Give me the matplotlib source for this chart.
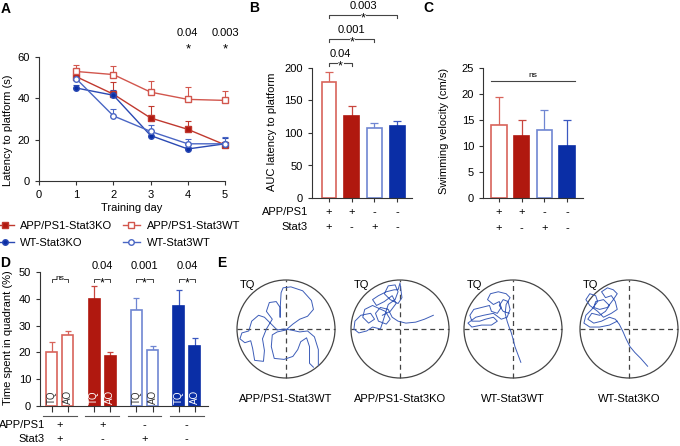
import numpy as np
import matplotlib
matplotlib.use("Agg")
import matplotlib.pyplot as plt
import matplotlib.transforms as mtransforms
from matplotlib.patches import Circle

plt.rcParams['font.family'] = ['Liberation Sans', 'DejaVu Sans']
plt.rcParams['font.size'] = 8
plt.rcParams['axes.linewidth'] = 0.8
plt.rcParams['axes.edgecolor'] = '#333333'
plt.rcParams['xtick.color'] = '#333333'
plt.rcParams['ytick.color'] = '#333333'
plt.rcParams['xtick.labelcolor'] = 'black'
plt.rcParams['ytick.labelcolor'] = 'black'
plt.rcParams['xtick.major.size'] = 3
plt.rcParams['ytick.major.size'] = 3
plt.rcParams['xtick.major.width'] = 0.8
plt.rcParams['ytick.major.width'] = 0.8

RED = '#B0180F'
RED_L = '#D8645B'
BLUE = '#0A2EA6'
BLUE_L = '#6F86D2'
PATH = '#3D5DB8'

# ---- data ----
days = [1, 2, 3, 4, 5]
lat_app_ko = [50.5, 42, 30.5, 25, 17.5]
lat_app_ko_err = [3, 6, 6, 4, 1]
lat_app_wt = [53, 51.5, 43, 39.5, 39]
lat_app_wt_err = [3, 4, 5.5, 6, 4.5]
lat_wt_ko = [45, 41.5, 22, 15.5, 18]
lat_wt_ko_err = [1.5, 2.5, 1.5, 1, 3]
lat_wt_wt = [49.5, 31.5, 24, 18, 18]
lat_wt_wt_err = [2.5, 3.5, 3, 2.5, 3.5]
a_sig_days = [4, 5]
a_sig_p = ['0.04', '0.003']

auc = [179, 126, 107, 110]
auc_err = [15, 16, 9, 8]
b_pairs = [(0, 1), (0, 2), (0, 3)]
b_p = ['0.04', '0.001', '0.003']
b_heights = [208, 245, 282]

vel = [14, 12, 13, 10]
vel_err = [5.5, 3, 4, 5]

tq = [20, 39.8, 35.8, 37.2]
tq_err = [4, 4.9, 4.5, 6.1]
ao = [26.5, 18.5, 21, 22.3]
ao_err = [1.3, 1.8, 1.5, 2.9]
d_p = ['ns', '0.04', '0.001', '0.04']

app_sign = ['+', '+', '-', '-']
stat_sign = ['+', '-', '+', '-']
group_names = ['APP/PS1-Stat3WT', 'APP/PS1-Stat3KO', 'WT-Stat3WT', 'WT-Stat3KO']

# swim paths, pool coords 0-100 (centre 50,50)
path_app_wt = [(83, 13), (83, 29), (79, 42), (72, 48), (64, 47), (55, 49), (48, 50), (41, 49),
               (35, 55), (28, 62), (22, 64), (15, 58), (12, 48), (5, 46), (3, 40), (8, 36),
               (14, 38), (16, 30), (18, 18), (27, 17), (28, 28), (26, 40), (30, 50), (36, 60),
               (30, 68), (33, 77), (40, 78), (44, 72), (44, 62), (44, 70), (45, 87), (47, 92),
               (55, 93), (67, 89), (76, 79), (78, 70), (72, 63), (64, 60), (57, 55), (50, 49),
               (41, 47), (36, 44), (35, 32), (38, 20), (48, 19), (57, 22), (62, 29), (65, 37),
               (71, 41), (74, 32), (74, 15), (78, 11)]
path_app_ko = [(84, 64), (75, 60), (66, 57), (56, 56), (48, 58), (42, 62), (38, 70), (30, 72),
               (25, 66), (28, 58), (36, 55), (40, 60), (35, 68), (22, 74), (14, 70), (12, 62),
               (18, 56), (24, 60), (20, 66), (10, 64), (4, 58), (3, 50), (8, 46), (16, 48),
               (22, 52), (30, 50), (32, 56), (38, 75), (45, 80), (48, 88), (45, 95), (38, 94),
               (34, 86), (40, 80), (48, 76), (52, 82), (50, 97), (48, 90), (44, 90), (36, 88),
               (28, 84), (22, 80), (26, 74), (34, 78), (42, 84), (46, 76), (40, 68), (32, 64)]
path_wt_wt = [(58, 16), (55, 24), (52, 32), (50, 40), (48, 47), (46, 52), (44, 58), (42, 66),
              (43, 75), (47, 82), (43, 86), (35, 88), (27, 86), (24, 80), (30, 75), (36, 78),
              (38, 72), (34, 66), (28, 68), (26, 74), (18, 72), (10, 70), (6, 64), (8, 58),
              (16, 58), (22, 60), (30, 62), (34, 58), (28, 54), (18, 54), (8, 52), (4, 56),
              (12, 62), (20, 64), (30, 66), (38, 60), (44, 62), (47, 70), (45, 78), (40, 80),
              (36, 74), (40, 68), (46, 66)]
path_wt_ko = [(69, 12), (62, 20), (56, 26), (51, 32), (47, 40), (44, 47), (40, 55), (36, 60),
              (30, 62), (22, 58), (14, 56), (8, 60), (12, 66), (20, 64), (26, 68), (30, 74),
              (24, 80), (16, 78), (14, 72), (20, 70), (28, 72), (34, 80), (38, 86), (34, 90),
              (28, 92), (22, 88), (26, 82), (32, 84), (36, 78), (38, 70), (32, 66), (24, 62),
              (18, 68), (10, 74), (6, 80), (10, 86), (16, 84), (18, 78), (12, 70), (6, 64),
              (4, 56), (10, 52), (20, 52), (30, 54), (38, 58)]
paths = [path_app_wt, path_app_ko, path_wt_wt, path_wt_ko]

W, H = 680, 446
fig = plt.figure(figsize=(W / 100, H / 100), dpi=100)


def add_ax(l, t, r, b):
    return fig.add_axes([l / W, 1 - b / H, (r - l) / W, (b - t) / H])


def ftext(x, y, s, **kw):
    return fig.text(x / W, 1 - y / H, s, **kw)


def clean(ax):
    ax.spines['top'].set_visible(False)
    ax.spines['right'].set_visible(False)


bar_face = ['white', RED, 'white', BLUE]
bar_edge = [RED_L, RED, BLUE_L, BLUE]
err_col = [RED_L, '#C8463E', BLUE_L, '#3B58C0']

# ---- panel labels ----
for lab, x, y in [('A', 6, 9), ('B', 254, 8), ('C', 428, 8), ('D', 5, 263), ('E', 222, 263)]:
    ftext(x, y, lab, fontsize=10, fontweight='bold', ha='center', va='center')

# ---- A ----
ax = add_ax(39, 57, 225, 181)
clean(ax)
series = [
    (lat_app_ko, lat_app_ko_err, '#C0392F', 's', RED, 'APP/PS1-Stat3KO'),
    (lat_wt_ko, lat_wt_ko_err, '#2A49B3', 'o', BLUE, 'WT-Stat3KO'),
    (lat_app_wt, lat_app_wt_err, '#D2564D', 's', 'white', 'APP/PS1-Stat3WT'),
    (lat_wt_wt, lat_wt_wt_err, '#4A66C4', 'o', 'white', 'WT-Stat3WT'),
]
handles = []
for vals, err, col, mk, fc, lab in series:
    ax.errorbar(days, vals, yerr=[np.zeros(len(err)), err], fmt='none', ecolor=col,
                elinewidth=0.8, capsize=2.5, capthick=0.8, clip_on=False, zorder=2)
    h, = ax.plot(days, vals, color=col, lw=1.0, marker=mk, ms=4.5 if mk == 's' else 4,
                 mfc=fc, mec=col, mew=1.0, clip_on=False, zorder=3, label=lab)
    handles.append(h)
ax.set_xlim(0, 5)
ax.set_ylim(0, 60)
ax.set_xticks(range(6))
ax.set_yticks([0, 20, 40, 60])
for d, p in zip(a_sig_days, a_sig_p):
    ax.text(d, 71.5, p, ha='center', va='center', clip_on=False)
    ax.text(d, 63.5, '*', ha='center', va='center', fontsize=9.5)
ftext(132, 208, 'Training day', ha='center', va='center')
ftext(8, 130, 'Latency to platform (s)', rotation=90, ha='center', va='center')
leg = ax.legend(handles=handles, ncol=2, frameon=False, loc='upper left',
                bbox_to_anchor=(-4 / W, 1 - 221 / H), bbox_transform=fig.transFigure,
                handlelength=1.6, handletextpad=0.6, columnspacing=0.9, labelspacing=0.65,
                borderaxespad=0, borderpad=0, fontsize=8)


def bar_panel(ax, vals, errs, width):
    x = np.arange(len(vals))
    for i in range(len(vals)):
        ax.bar(x[i], vals[i], width=width, color=bar_face[i], edgecolor=bar_edge[i],
               linewidth=1.2, zorder=2)
        ax.errorbar(x[i], vals[i], yerr=[[0], [errs[i]]], fmt='none', ecolor=err_col[i],
                    elinewidth=0.9, capsize=3, capthick=0.9, zorder=1)
    ax.set_xticks(x)
    ax.set_xticklabels([])
    return x


def sign_rows(ax, xs, y1, y2, labx=None):
    tr = mtransforms.blended_transform_factory(ax.transData, fig.transFigure)
    for xi, s1, s2 in zip(xs, app_sign, stat_sign):
        ax.text(xi, 1 - y1 / H, s1, transform=tr, ha='center', va='center')
        ax.text(xi, 1 - y2 / H, s2, transform=tr, ha='center', va='center')
    if labx is not None:
        ftext(labx, y1, 'APP/PS1', ha='right', va='center')
        ftext(labx, y2, 'Stat3', ha='right', va='center')


# ---- B ----
ax = add_ax(312, 68, 412, 198)
clean(ax)
xb = bar_panel(ax, auc, auc_err, 0.66)
ax.set_xlim(-0.75, 3.66)
ax.set_ylim(0, 200)
ax.set_yticks([0, 50, 100, 150, 200])
sign_rows(ax, xb, 212, 227, labx=308)
ftext(272, 132, 'AUC latency to platform', rotation=90, ha='center', va='center')
for (i, j), p, h in zip(b_pairs, b_p, b_heights):
    m = (i + j) / 2
    ax.plot([i, i, m - 0.14], [h - 4.5, h, h], color='#444444', lw=0.8, clip_on=False)
    ax.plot([m + 0.14, j, j], [h, h, h - 4.5], color='#444444', lw=0.8, clip_on=False)
    ax.text(m, h - 5, '*', ha='center', va='center', fontsize=9)
    ax.text(m, h + 14, p, ha='center', va='center')

# ---- C ----
ax = add_ax(483, 68, 583, 198)
clean(ax)
xc = bar_panel(ax, vel, vel_err, 0.69)
ax.set_xlim(-0.7, 3.7)
ax.set_ylim(0, 25)
ax.set_yticks([0, 5, 10, 15, 20, 25])
sign_rows(ax, xc, 212, 228)
ftext(444, 131, 'Swimming velocity (cm/s)', rotation=90, ha='center', va='center')
ax.plot([-0.33, 3.35], [22.5, 22.5], color='#444444', lw=0.8, clip_on=False)
ax.text(1.5, 22.9, 'ns', ha='center', va='bottom', fontsize=6)

# ---- D ----
ax = add_ax(40, 272, 208, 406)
clean(ax)
g = np.arange(4)
off = 0.19
wd = 0.26
xt = []
for i in g:
    for x0, v, e, lab in [(i - off, tq[i], tq_err[i], 'TQ'), (i + off, ao[i], ao_err[i], 'AO')]:
        ax.bar(x0, v, width=wd, color=bar_face[i], edgecolor=bar_edge[i], linewidth=1.2, zorder=2)
        ax.errorbar(x0, v, yerr=[[0], [e]], fmt='none', ecolor=err_col[i],
                    elinewidth=0.9, capsize=2.5, capthick=0.9, zorder=1)
        tc = 'white' if bar_face[i] != 'white' else '#333333'
        ax.text(x0, 0.8, lab, rotation=90, ha='center', va='bottom', fontsize=7, color=tc, zorder=3)
        xt.append(x0)
ax.set_xticks(xt)
ax.set_xticklabels([])
ax.tick_params(axis='x', length=4)
ax.set_xlim(-0.47, 3.5)
ax.set_ylim(0, 50)
ax.set_yticks([0, 10, 20, 30, 40, 50])
tr = mtransforms.blended_transform_factory(ax.transData, fig.transFigure)
for i in g:
    ax.plot([i - 0.4, i + 0.4], [1 - 416 / H] * 2, transform=tr, color='#555555', lw=0.8, clip_on=False)
sign_rows(ax, g, 425, 439, labx=45)
ftext(8, 338, 'Time spent in quadrant (%)', rotation=90, ha='center', va='center')
for i, p in zip(g, d_p):
    h = 47.4
    gap = 0.1 if p == 'ns' else 0.07
    ax.plot([i - off, i - off, i - gap], [h - 1.1, h, h], color='#444444', lw=0.7, clip_on=False)
    ax.plot([i + gap, i + off, i + off], [h, h, h - 1.1], color='#444444', lw=0.7, clip_on=False)
    if p == 'ns':
        ax.text(i, h + 0.2, 'ns', ha='center', va='center', fontsize=6)
    else:
        ax.text(i, h - 1.6, '*', ha='center', va='center', fontsize=9)
        ax.text(i, 52.2, p, ha='center', va='center', clip_on=False)

# ---- E ----
centers = [286, 400, 513, 629]
for cx, name, pth in zip(centers, group_names, paths):
    cy, r = 329, 49
    ax = add_ax(cx - r, cy - r, cx + r, cy + r)
    ax.set_xlim(0, 100)
    ax.set_ylim(0, 100)
    ax.axis('off')
    ax.add_patch(Circle((50, 50), 50, fill=False, ec='#444444', lw=0.9, clip_on=False))
    ax.plot([0, 100], [50, 50], ls=(0, (4, 3)), color='#444444', lw=0.9, clip_on=False)
    ax.plot([50, 50], [0, 100], ls=(0, (4, 3)), color='#444444', lw=0.9, clip_on=False)
    xs, ys = zip(*pth)
    ax.plot(xs, ys, color=PATH, lw=0.7, clip_on=False)
    ax.text(11, 95, 'TQ', ha='center', va='center', clip_on=False)
    ftext(cx, 399, name, ha='center', va='center')

fig.savefig('out.png', dpi=100)
